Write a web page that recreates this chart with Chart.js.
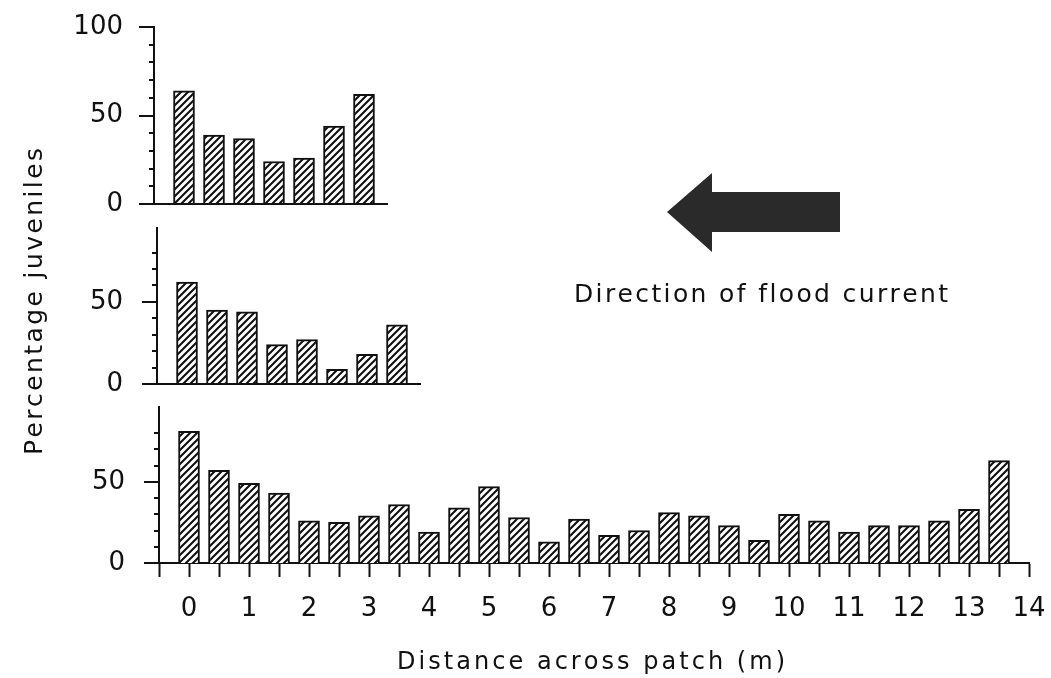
<!DOCTYPE html>
<html>
<head>
<meta charset="utf-8">
<script src="https://cdn.jsdelivr.net/npm/chart.js@4.4.1/dist/chart.umd.min.js"></script>
<style>
  html, body { margin: 0; padding: 0; background: #fff; }
  #wrap { position: relative; width: 1051px; height: 678px; overflow: hidden; }
  #wrap canvas { position: absolute; left: 0; top: 0; }
</style>
</head>
<body>
<div id="wrap">
  <canvas id="top" width="1051" height="678"></canvas>
  <canvas id="mid" width="1051" height="678"></canvas>
  <canvas id="bot" width="1051" height="678"></canvas>
</div>
<script>
// distance across patch (m) and percentage of juveniles, one pair per panel
const distTop = [0, 0.5, 1, 1.5, 2, 2.5, 3]
const pctTop = [64, 39, 37, 24, 26, 44, 62]

const distMid = [0, 0.5, 1, 1.5, 2, 2.5, 3, 3.5]
const pctMid = [62, 45, 44, 24, 27, 9, 18, 36]

const distBot = [0, 0.5, 1, 1.5, 2, 2.5, 3, 3.5, 4, 4.5, 5, 5.5, 6, 6.5,
                 7, 7.5, 8, 8.5, 9, 9.5, 10, 10.5, 11, 11.5, 12, 12.5, 13, 13.5]
const pctBot = [81, 57, 49, 43, 26, 25, 29, 36, 19, 34, 47, 28, 13, 27,
                17, 20, 31, 29, 23, 14, 30, 26, 19, 23, 23, 26, 33, 63]

const yTickLabels = [0, 50, 100]
const xTickLabels = [0, 1, 2, 3, 4, 5, 6, 7, 8, 9, 10, 11, 12, 13, 14]

const INK = '#111'
const FONT = "'DejaVu Sans', sans-serif"
const W = 1051, H = 678
const Y_W = 100       // fixed width of the y scale box
const PLOT_W = 870    // -0.5 .. 14 m at 60 px per metre

function hatch(ctx) {
	const s = 7
	const c = document.createElement('canvas')
	c.width = s
	c.height = s
	const g = c.getContext('2d')
	g.fillStyle = '#fff'
	g.fillRect(0, 0, s, s)
	g.strokeStyle = INK
	g.lineWidth = 2.1
	g.beginPath()
	g.moveTo(-1, s + 1); g.lineTo(s + 1, -1)
	g.moveTo(-1, 1); g.lineTo(1, -1)
	g.moveTo(s - 1, s + 1); g.lineTo(s + 1, s - 1)
	g.stroke()
	return ctx.createPattern(c, 'repeat')
}

// y tick marks (long at labelled values, short every 10) and short baselines
const axisMarks = {
	id: 'axisMarks',
	afterDraw(chart, args, o) {
		const { ctx, chartArea, scales: { x, y } } = chart
		ctx.save()
		ctx.strokeStyle = INK
		ctx.lineWidth = 2
		ctx.beginPath()
		for (const t of y.ticks) {
			if (t.value % 10 !== 0) continue
			const py = Math.round(y.getPixelForValue(t.value))
			const len = yTickLabels.includes(t.value) ? 15 : 5
			ctx.moveTo(chartArea.left, py)
			ctx.lineTo(chartArea.left - len, py)
		}
		if (o.baseEnd !== undefined) {
			const py = Math.round(y.getPixelForValue(0))
			ctx.moveTo(chartArea.left, py)
			ctx.lineTo(x.getPixelForValue(o.baseEnd), py)
		}
		ctx.stroke()
		ctx.restore()
	}
}

function spacedText(ctx, text, x, y, width, size) {
	ctx.font = size + 'px ' + FONT
	const chars = [...text]
	const natural = chars.reduce((s, c) => s + ctx.measureText(c).width, 0)
	const gap = (width - natural) / (chars.length - 1)
	let cx = x
	for (const c of chars) {
		ctx.fillText(c, cx, y)
		cx += ctx.measureText(c).width + gap
	}
}

// axis titles, arrow and its caption
const annotations = {
	id: 'annotations',
	afterDraw(chart) {
		const ctx = chart.ctx
		ctx.save()
		ctx.fillStyle = '#2a2a2a'
		ctx.beginPath()
		ctx.moveTo(667, 212)
		ctx.lineTo(712, 173)
		ctx.lineTo(712, 192)
		ctx.lineTo(840, 192)
		ctx.lineTo(840, 232)
		ctx.lineTo(712, 232)
		ctx.lineTo(712, 252)
		ctx.closePath()
		ctx.fill()

		ctx.fillStyle = INK
		ctx.textBaseline = 'alphabetic'
		ctx.textAlign = 'left'
		spacedText(ctx, 'Direction of flood current', 574, 302, 374, 25)
		spacedText(ctx, 'Distance across patch (m)', 397, 669, 388, 24)

		ctx.translate(42, 455)
		ctx.rotate(-Math.PI / 2)
		spacedText(ctx, 'Percentage juveniles', 0, 0, 307, 25)
		ctx.restore()
	}
}

function panel(id, dist, pct, p) {
	const canvas = document.getElementById(id)
	const ctx = canvas.getContext('2d')
	const showX = p.showX === true
	return new Chart(canvas, {
		type: 'bar',
		data: {
			datasets: [
				{
					data: dist.map((d, i) => ({ x: d, y: pct[i] })),
					backgroundColor: hatch(ctx),
					borderColor: INK,
					borderWidth: 2,
					barThickness: 21,
				},
			],
		},
		options: {
			responsive: false,
			animation: false,
			layout: {
				padding: {
					left: p.left - Y_W,
					right: W - p.left - PLOT_W,
					top: p.top,
					bottom: showX ? 0 : H - p.bottom,
				},
			},
			plugins: {
				legend: { display: false },
				tooltip: { enabled: false },
				axisMarks: { baseEnd: p.baseEnd },
			},
			scales: {
				x: {
					type: 'linear',
					display: showX,
					min: -0.5,
					max: 14,
					offset: false,
					afterFit: (s) => {
						s.height = showX ? H - p.bottom : 0
						s.paddingLeft = 0
						s.paddingRight = 0
					},
					grid: {
						offset: false,
						drawOnChartArea: false,
						drawTicks: true,
						tickLength: 14,
						tickWidth: 2,
						tickColor: INK,
					},
					border: { display: true, color: INK, width: 2 },
					ticks: {
						stepSize: 0.5,
						autoSkip: false,
						maxRotation: 0,
						padding: 17,
						color: INK,
						font: { family: FONT, size: 26 },
						callback: (v) => (xTickLabels.includes(v) ? String(v) : ''),
					},
				},
				y: {
					min: 0,
					max: p.yMax,
					afterFit: (s) => {
						s.width = Y_W
						s.paddingTop = 0
						s.paddingBottom = 0
					},
					grid: { display: false, drawTicks: false },
					border: { display: true, color: INK, width: 2 },
					ticks: {
						stepSize: 10,
						autoSkip: false,
						padding: p.labelPad,
						color: INK,
						font: { family: FONT, size: 26 },
						callback: (v) => (yTickLabels.includes(v) ? String(v) : ''),
					},
				},
			},
		},
		plugins: p.extra ? [axisMarks, p.extra] : [axisMarks],
	})
}

panel('top', distTop, pctTop, { left: 154, top: 27, bottom: 204, yMax: 100, baseEnd: 3.4, labelPad: 31 })
panel('mid', distMid, pctMid, { left: 157, top: 228, bottom: 384, yMax: 95, baseEnd: 3.9, labelPad: 34 })
panel('bot', distBot, pctBot, { left: 159, top: 407, bottom: 563, yMax: 96, showX: true, labelPad: 34, extra: annotations })
</script>
</body>
</html>
